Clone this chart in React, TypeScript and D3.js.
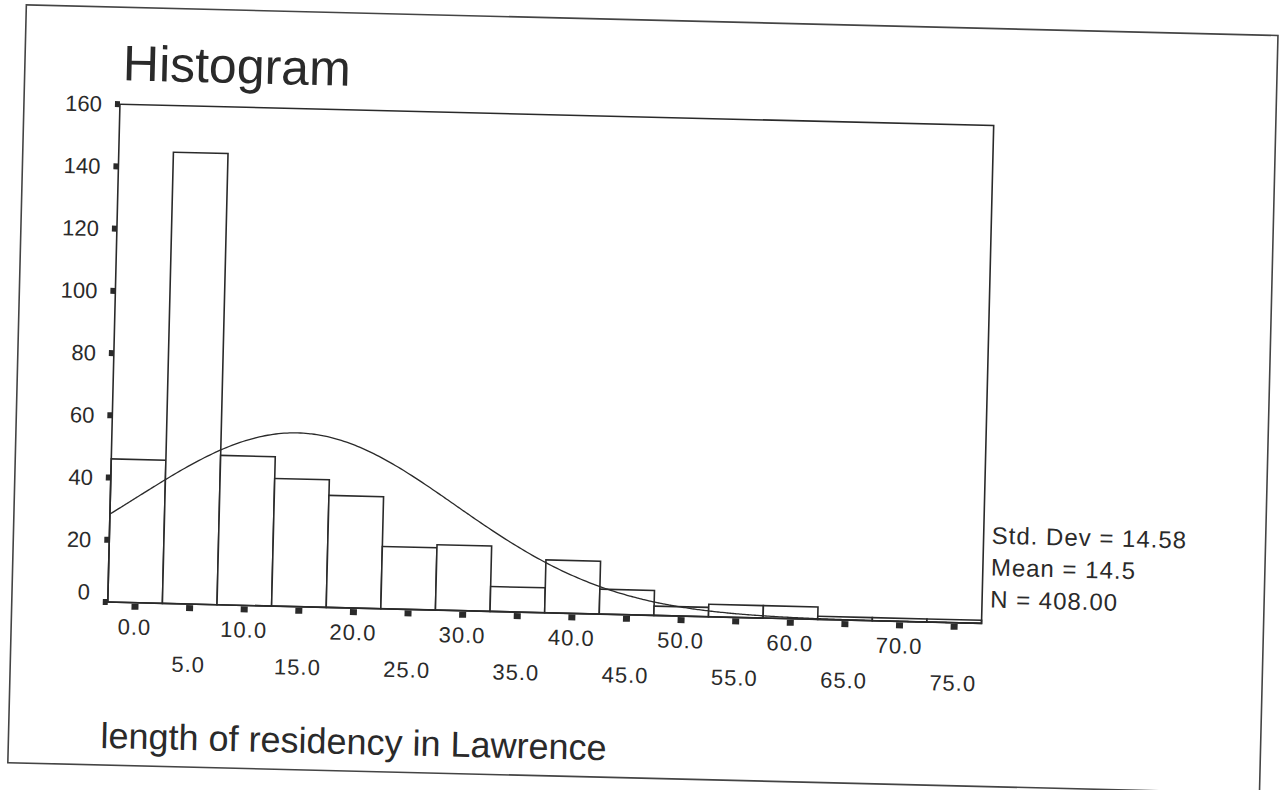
import React from "react";
import * as d3 from "d3";

// Histogram of length of residency (years), 5-year bins centred on 0, 5, ..., 75
const binCenters = [0, 5, 10, 15, 20, 25, 30, 35, 40, 45, 50, 55, 60, 65, 70, 75];
const counts = [46, 145, 48, 41, 36, 20, 21, 8, 17, 8, 3, 4, 4, 1, 1, 1];
const binWidth = 5;

const yTicks = [0, 20, 40, 60, 80, 100, 120, 140, 160];
const xLabelsUpper = ["0.0", "10.0", "20.0", "30.0", "40.0", "50.0", "60.0", "70.0"];
const xLabelsLower = ["5.0", "15.0", "25.0", "35.0", "45.0", "55.0", "65.0", "75.0"];

const stdDev = 14.58;
const mean = 14.5;
const nCases = 408;
const statLines = ["Std. Dev = 14.58", "Mean = 14.5", "N = 408.00"];

const W = 1279;
const H = 790;
const FONT = "'Liberation Sans', Arial, Helvetica, sans-serif";
const INK = "#2a2a2a";

const plot = { left: 113, right: 987, top: 117, bottom: 615 };

export default function App() {
  const x = d3
    .scaleLinear()
    .domain([binCenters[0] - binWidth / 2, binCenters[binCenters.length - 1] + binWidth / 2])
    .range([plot.left, plot.right]);
  const y = d3.scaleLinear().domain([0, 160]).range([plot.bottom, plot.top]);

  // expected counts under a normal curve with the sample mean and sd
  const scaleFactor = (nCases * binWidth) / (stdDev * Math.sqrt(2 * Math.PI));
  const [x0, x1] = x.domain();
  const curvePts = d3.range(x0, x1 + 0.001, 0.25).map((v) => {
    const z = (v - mean) / stdDev;
    return [v, scaleFactor * Math.exp(-0.5 * z * z)] as [number, number];
  });
  const line = d3
    .line<[number, number]>()
    .x((d) => x(d[0]))
    .y((d) => y(d[1]))
    .curve(d3.curveBasis);

  return (
    <svg
      width={W}
      height={H}
      style={{ position: "absolute", left: 0, top: 0, background: "#fff" }}
      fontFamily={FONT}
    >
      <rect width={W} height={H} fill="#fff" />
      <g transform="rotate(1.4, 640, 395)">
        {/* outer chart frame */}
        <rect x={17} y={20} width={1252} height={758} fill="none" stroke="#444" strokeWidth={1.6} />

        <text x={115} y={93} fontSize={50} fill={INK}>
          Histogram
        </text>

        {/* bars */}
        {counts.map((c, i) => (
          <rect
            key={i}
            x={x(binCenters[i] - binWidth / 2)}
            y={y(c)}
            width={x(binCenters[i] + binWidth / 2) - x(binCenters[i] - binWidth / 2)}
            height={y(0) - y(c)}
            fill="#fff"
            stroke={INK}
            strokeWidth={1.6}
          />
        ))}

        {/* normal curve */}
        <path d={line(curvePts) || ""} fill="none" stroke={INK} strokeWidth={1.3} />

        {/* plot frame */}
        <rect
          x={plot.left}
          y={plot.top}
          width={plot.right - plot.left}
          height={plot.bottom - plot.top}
          fill="none"
          stroke={INK}
          strokeWidth={1.6}
        />

        {/* y axis ticks and labels */}
        {yTicks.map((t) => (
          <g key={t}>
            <rect x={plot.left - 5} y={y(t) - 3} width={5} height={6} fill={INK} />
            <text
              x={plot.left - 18}
              y={y(t) - (t === 0 ? 10 : 0)}
              dy="0.36em"
              textAnchor="end"
              fontSize={22}
              fill={INK}
            >
              {t}
            </text>
          </g>
        ))}

        {/* x axis ticks */}
        {binCenters.map((c) => (
          <rect key={c} x={x(c) - 3.5} y={plot.bottom + 1} width={7} height={6} fill={INK} />
        ))}
        {xLabelsUpper.map((s) => (
          <text key={s} x={x(+s)} y={647} textAnchor="middle" fontSize={22} fill={INK} letterSpacing={1}>
            {s}
          </text>
        ))}
        {xLabelsLower.map((s) => (
          <text key={s} x={x(+s)} y={683} textAnchor="middle" fontSize={22} fill={INK} letterSpacing={1}>
            {s}
          </text>
        ))}

        <text x={109} y={761} fontSize={36} fill={INK}>
          length of residency in Lawrence
        </text>

        {/* summary statistics */}
        {statLines.map((s, i) => (
          <text key={s} x={995} y={535 + i * 32} fontSize={24} fill={INK} letterSpacing={1}>
            {s}
          </text>
        ))}
      </g>
    </svg>
  );
}
